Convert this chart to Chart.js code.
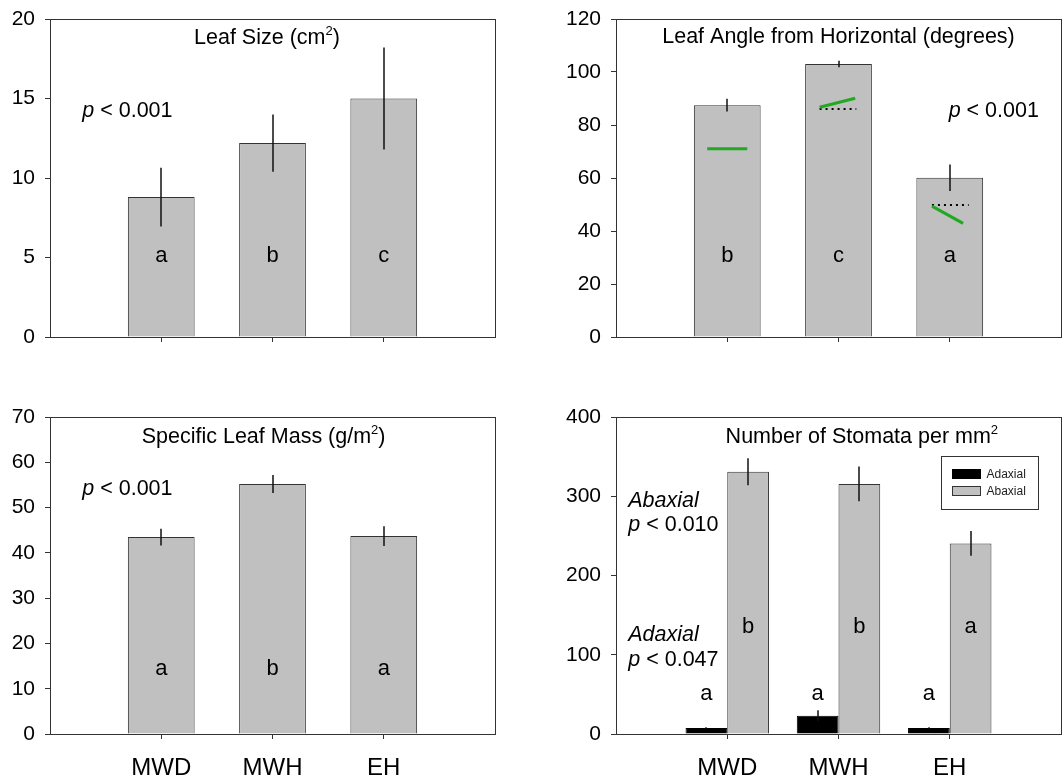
<!DOCTYPE html>
<html>
<head>
<meta charset="utf-8">
<script src="https://cdn.jsdelivr.net/npm/chart.js@4.4.1/dist/chart.umd.min.js"></script>
<style>
  body { margin: 0; background: #fff; }
  #wrap { position: relative; width: 1062px; height: 777px; }
  canvas { position: absolute; }
</style>
</head>
<body>
<div id="wrap">
  <canvas id="size" width="531" height="380" style="left:0;top:0"></canvas>
  <canvas id="angle" width="531" height="380" style="left:531px;top:0"></canvas>
  <canvas id="mass" width="531" height="397" style="left:0;top:380px"></canvas>
  <canvas id="stomata" width="531" height="397" style="left:531px;top:380px"></canvas>
</div>
<script>
const categories = ['MWD', 'MWH', 'EH']

// leaf size (cm2)
const sizeMean = [8.8, 12.2, 15.0]
const sizeErr = [1.85, 1.8, 3.2]
const sizeLetters = ['a', 'b', 'c']
const sizeTicks = [0, 5, 10, 15, 20]

// leaf angle (degrees)
const angleMean = [87.5, 103.0, 60.1]
const angleErr = [2.4, 1.2, 5.0]
const angleLetters = ['b', 'c', 'a']
const angleTicks = [0, 20, 40, 60, 80, 100, 120]
// green segments and dotted reference lines drawn inside the bars
const angleGreen = [
  [[0.82, 71.0], [1.18, 71.0]],
  [[1.83, 86.7], [2.15, 90.1]],
  [[2.84, 49.4], [3.12, 42.9]]
]
const angleDotted = [
  [[1.83, 86.0], [2.16, 86.0]],
  [[2.84, 49.8], [3.17, 49.8]]
]

// specific leaf mass (g/m2)
const massMean = [43.5, 55.2, 43.7]
const massErr = [1.85, 2.0, 2.2]
const massLetters = ['a', 'b', 'a']
const massTicks = [0, 10, 20, 30, 40, 50, 60, 70]

// stomata per mm2
const adaxial = [7.5, 23, 7.5]
const adaxialErr = [1, 7, 1]
const adaxialLetters = ['a', 'a', 'a']
const abaxial = [331, 315.6, 240.5]
const abaxialErr = [17, 22, 15.5]
const abaxialLetters = ['b', 'b', 'a']
const stomataTicks = [0, 100, 200, 300, 400]

const FONT = 'Arial, "Liberation Sans", sans-serif'
const GREY = '#c0c0c0'
const LINE = '#333'

const points = vals => vals.map((v, i) => ({ x: i + 1, y: v }))
const segment = seg => seg.map(p => ({ x: p[0], y: p[1] }))

function yAxis(max, ticks, width) {
  return {
    min: 0, max: max,
    afterBuildTicks: s => { s.ticks = ticks.map(v => ({ value: v })) },
    // fixed width, and no extra room reserved above/below for the end labels
    afterFit: s => { s.width = width; s.paddingTop = 0; s.paddingBottom = 0 },
    border: { display: false },
    grid: { drawOnChartArea: false, tickLength: 5, color: LINE },
    ticks: { padding: 10, color: '#000', font: { family: FONT, size: 21 } }
  }
}

function xAxis(names) {
  return {
    type: 'linear', min: 0, max: 4,
    offset: false,
    afterBuildTicks: s => { s.ticks = categories.map((c, i) => ({ value: i + 1 })) },
    afterFit: s => { s.height = 43 },
    border: { display: false },
    grid: { offset: false, drawOnChartArea: false, tickLength: 5, color: LINE },
    ticks: {
      padding: 15, color: '#000', font: { family: FONT, size: 24 },
      callback: v => names ? categories[v - 1] : ''
    }
  }
}

// box round the plot area
const frame = {
  id: 'frame',
  afterDatasetsDraw(chart) {
    const { ctx, chartArea: a } = chart
    ctx.save()
    ctx.strokeStyle = LINE
    ctx.lineWidth = 1
    ctx.strokeRect(Math.round(a.left) + 0.5, Math.round(a.top) + 0.5, Math.round(a.width), Math.round(a.height))
    ctx.restore()
  }
}

// vertical error lines, no caps
const errorBars = {
  id: 'errorBars',
  afterDatasetsDraw(chart) {
    const ctx = chart.ctx
    const y = chart.scales.y
    chart.data.datasets.forEach((ds, i) => {
      if (!ds.errors) return
      chart.getDatasetMeta(i).data.forEach((bar, j) => {
        const v = ds.data[j].y
        const e = ds.errors[j]
        const x = Math.round(bar.x)
        ctx.save()
        ctx.strokeStyle = '#111'
        ctx.lineWidth = 1.5
        ctx.beginPath()
        ctx.moveTo(x, y.getPixelForValue(v + e))
        ctx.lineTo(x, y.getPixelForValue(v - e))
        ctx.stroke()
        ctx.restore()
      })
    })
  }
}

// text made of runs: plain strings or {t, italic, sup}
function drawRich(ctx, x, y, parts, size, align) {
  const runs = parts.map(p => typeof p === 'string' ? { t: p } : p)
  const fontOf = r => (r.italic ? 'italic ' : '') + (r.sup ? Math.round(size * 0.6) : size) + 'px ' + FONT
  let w = 0
  runs.forEach(r => { ctx.font = fontOf(r); r.w = ctx.measureText(r.t).width; w += r.w })
  let cx = align === 'center' ? x - w / 2 : x
  ctx.fillStyle = '#000'
  ctx.textAlign = 'left'
  ctx.textBaseline = 'alphabetic'
  runs.forEach(r => {
    ctx.font = fontOf(r)
    ctx.fillText(r.t, cx, r.sup ? y - size * 0.42 : y)
    cx += r.w
  })
}

// notes are placed in data units; letters sit over the bars of a dataset
function annotations(notes, letters) {
  return {
    id: 'annotations',
    afterDraw(chart) {
      const { ctx, scales } = chart
      ctx.save()
      notes.forEach(n => {
        drawRich(ctx, scales.x.getPixelForValue(n.x), scales.y.getPixelForValue(n.y), n.parts, n.size, n.align)
      })
      letters.forEach(l => {
        chart.getDatasetMeta(l.dataset).data.forEach((bar, j) => {
          drawRich(ctx, bar.x, scales.y.getPixelForValue(l.y), [l.labels[j]], 22, 'center')
        })
      })
      ctx.restore()
    }
  }
}

// legend box inside the plot area, from the dataset labels
const boxLegend = {
  id: 'boxLegend',
  afterDraw(chart) {
    const { ctx, chartArea: a } = chart
    const bars = chart.data.datasets.filter(d => d.type !== 'line')
    const left = Math.round(a.right - 120) + 0.5
    const top = Math.round(a.top + 39) + 0.5
    ctx.save()
    ctx.strokeStyle = LINE
    ctx.lineWidth = 1
    ctx.strokeRect(left, top, 97, 53)
    ctx.font = '12px ' + FONT
    ctx.textBaseline = 'middle'
    ctx.textAlign = 'left'
    bars.forEach((d, i) => {
      const rowY = top + 18 + i * 17
      ctx.fillStyle = d.backgroundColor
      ctx.fillRect(left + 11, rowY - 5, 28, 9)
      ctx.strokeStyle = d.borderColor
      ctx.strokeRect(left + 11, rowY - 5, 28, 9)
      ctx.fillStyle = '#222'
      ctx.fillText(d.label, left + 45, rowY)
    })
    ctx.restore()
  }
}

function barSet(label, vals, errs, color, border, extra) {
  return Object.assign({
    label: label,
    data: points(vals),
    errors: errs,
    backgroundColor: color,
    borderColor: border,
    borderWidth: 1,
    order: 2
  }, extra || {})
}

function lineSet(seg, color, width, dash) {
  return {
    type: 'line',
    data: segment(seg),
    borderColor: color,
    borderWidth: width,
    borderDash: dash || [],
    pointRadius: 0,
    fill: false,
    order: 1
  }
}

function baseOptions(pad, yMax, yTicks, yWidth, names) {
  return {
    responsive: false,
    animation: false,
    events: [],
    layout: { padding: pad },
    plugins: { legend: { display: false }, tooltip: { enabled: false } },
    scales: { x: xAxis(names), y: yAxis(yMax, yTicks, yWidth) }
  }
}

new Chart(document.getElementById('size'), {
  type: 'bar',
  data: {
    datasets: [barSet('Leaf size', sizeMean, sizeErr, GREY, LINE, { barPercentage: 0.6, categoryPercentage: 1 })]
  },
  options: baseOptions({ top: 19, right: 36 }, 20, sizeTicks, 50, false),
  plugins: [frame, errorBars, annotations([
    { x: 1.95, y: 18.4, size: 21.5, align: 'center', parts: ['Leaf Size (cm', { t: '2', sup: true }, ')'] },
    { x: 0.29, y: 13.85, size: 21.5, align: 'left', parts: [{ t: 'p', italic: true }, ' < 0.001'] }
  ], [{ dataset: 0, y: 4.73, labels: sizeLetters }])]
})

new Chart(document.getElementById('angle'), {
  type: 'bar',
  data: {
    datasets: [
      barSet('Leaf angle', angleMean, angleErr, GREY, LINE, { barPercentage: 0.6, categoryPercentage: 1 }),
      ...angleGreen.map(s => lineSet(s, '#22a822', 3)),
      ...angleDotted.map(s => lineSet(s, '#000', 2, [2, 4]))
    ]
  },
  options: baseOptions({ top: 19, right: 1 }, 120, angleTicks, 85, false),
  plugins: [frame, errorBars, annotations([
    { x: 2.0, y: 111, size: 21.5, align: 'center', parts: ['Leaf Angle from Horizontal (degrees)'] },
    { x: 2.99, y: 83.1, size: 21.5, align: 'left', parts: [{ t: 'p', italic: true }, ' < 0.001'] }
  ], [{ dataset: 0, y: 28.4, labels: angleLetters }])]
})

new Chart(document.getElementById('mass'), {
  type: 'bar',
  data: {
    datasets: [barSet('Specific leaf mass', massMean, massErr, GREY, LINE, { barPercentage: 0.6, categoryPercentage: 1 })]
  },
  options: baseOptions({ top: 37, right: 36 }, 70, massTicks, 50, true),
  plugins: [frame, errorBars, annotations([
    { x: 1.92, y: 64.3, size: 21.5, align: 'center', parts: ['Specific Leaf Mass (g/m', { t: '2', sup: true }, ')'] },
    { x: 0.29, y: 52.7, size: 21.5, align: 'left', parts: [{ t: 'p', italic: true }, ' < 0.001'] }
  ], [{ dataset: 0, y: 13.1, labels: massLetters }])]
})

new Chart(document.getElementById('stomata'), {
  type: 'bar',
  data: {
    datasets: [
      barSet('Adaxial', adaxial, adaxialErr, '#000', '#000', { barPercentage: 1, categoryPercentage: 0.75 }),
      barSet('Abaxial', abaxial, abaxialErr, GREY, LINE, { barPercentage: 1, categoryPercentage: 0.75 })
    ]
  },
  options: baseOptions({ top: 37, right: 1 }, 400, stomataTicks, 85, true),
  plugins: [frame, errorBars, boxLegend, annotations([
    { x: 2.21, y: 367, size: 21.5, align: 'center', parts: ['Number of Stomata per mm', { t: '2', sup: true }] },
    { x: 0.11, y: 286.6, size: 21.5, align: 'left', parts: [{ t: 'Abaxial', italic: true }] },
    { x: 0.11, y: 256, size: 21.5, align: 'left', parts: [{ t: 'p', italic: true }, ' < 0.010'] },
    { x: 0.11, y: 117.5, size: 21.5, align: 'left', parts: [{ t: 'Adaxial', italic: true }] },
    { x: 0.11, y: 86, size: 21.5, align: 'left', parts: [{ t: 'p', italic: true }, ' < 0.047'] }
  ], [
    { dataset: 0, y: 42.3, labels: adaxialLetters },
    { dataset: 1, y: 127, labels: abaxialLetters }
  ])]
})
</script>
</body>
</html>
